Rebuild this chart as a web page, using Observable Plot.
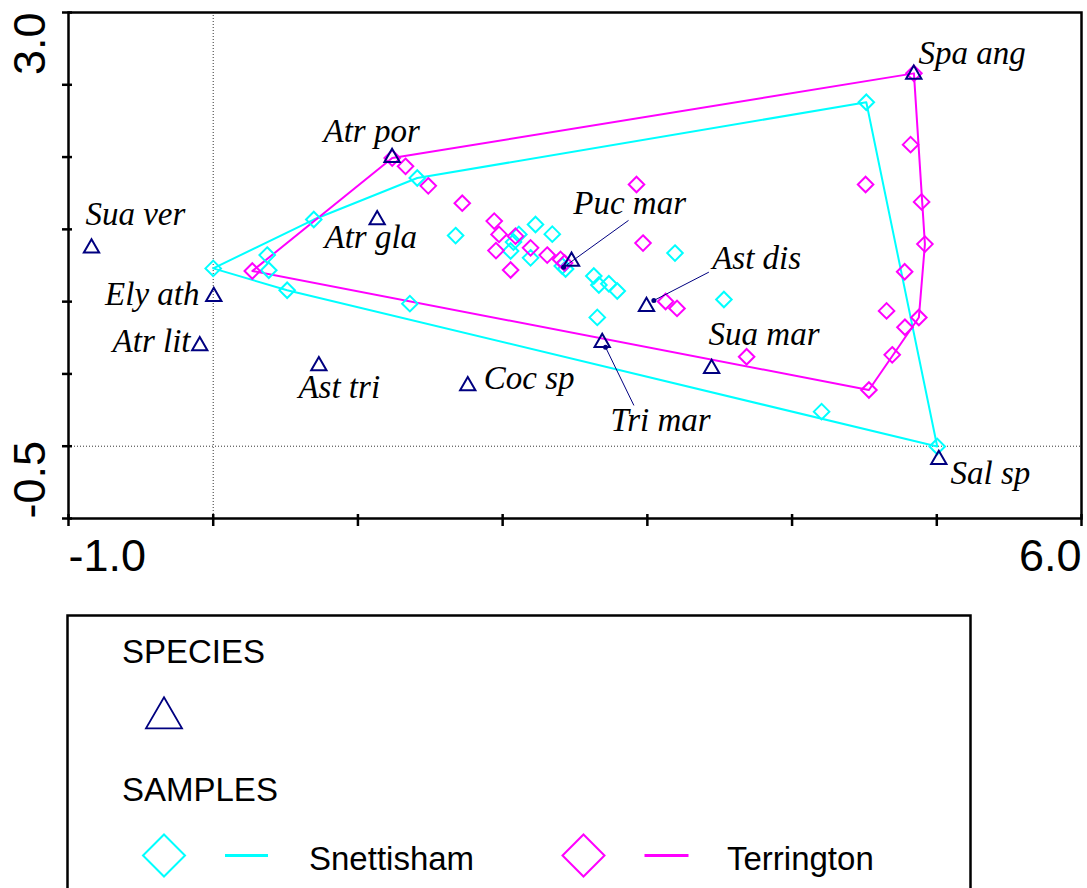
<!DOCTYPE html>
<html>
<head>
<meta charset="utf-8">
<script src="https://cdn.jsdelivr.net/npm/d3@7"></script>
<script src="https://cdn.jsdelivr.net/npm/@observablehq/plot@0.6"></script>
<style>
  html, body { margin: 0; padding: 0; background: #fff; }
  #chart { position: relative; width: 1087px; height: 888px; overflow: hidden; background: #fff; }
  #legend { position: absolute; left: 0; top: 590px; }
</style>
</head>
<body>
<div id="chart"></div>
<script>
// Ordination scores: species (triangles) and samples from two marsh sites.
const speciesNames = ["Sua ver", "Atr por", "Atr gla", "Ely ath", "Atr lit", "Ast tri", "Coc sp",
                      "Tri mar", "Sua mar", "Ast dis", "Puc mar", "Spa ang", "Sal sp"];
const speciesX = [-0.841, 1.236, 1.133, 0.004, -0.093, 0.730, 1.759, 2.688, 3.444, 2.994, 2.476, 4.841, 5.014];
const speciesY = [1.370, 1.997, 1.566, 1.035, 0.694, 0.556, 0.418, 0.717, 0.537, 0.966, 1.278, 2.573, -0.092];

const snettishamX = [0.000, 0.373, 0.384, 0.511, 0.695, 1.359, 1.410, 1.675, 2.112, 2.227, 2.343, 2.055, 2.193,
                     2.412, 2.435, 2.630, 2.665, 2.734, 2.792, 2.654, 3.191, 3.529, 4.204, 5.003, 4.513, 2.075];
const snettishamY = [1.230, 1.322, 1.217, 1.079, 1.568, 0.986, 1.855, 1.457, 1.465, 1.534, 1.467, 1.350, 1.303,
                     1.246, 1.226, 1.177, 1.115, 1.124, 1.074, 0.891, 1.336, 1.015, 0.239, -0.002, 2.379, 1.412];

const terringtonX = [0.270, 1.237, 1.329, 1.486, 1.721, 1.942, 1.975, 2.089, 1.954, 2.055, 2.193, 2.308, 2.400,
                     2.428, 2.925, 2.970, 3.126, 3.205, 3.686, 4.508, 4.842, 4.819, 4.895, 4.918, 4.778, 4.653,
                     4.876, 4.780, 4.692, 4.531];
const terringtonY = [1.212, 1.993, 1.936, 1.801, 1.681, 1.557, 1.465, 1.453, 1.353, 1.219, 1.372, 1.322, 1.292,
                     1.267, 1.810, 1.405, 1.001, 0.953, 0.619, 1.810, 2.579, 2.086, 1.690, 1.398, 1.207, 0.936,
                     0.890, 0.823, 0.632, 0.389];

// Where each species name sits (axis units, text baseline) and which side it hangs from.
const labelX = [-0.883, 0.762, 0.769, -0.095, -0.157, 0.589, 1.870, 2.746, 3.423, 3.448, 2.488, 4.874, 5.095];
const labelY = [1.527, 2.101, 1.368, 0.980, 0.650, 0.335, 0.397, 0.104, 0.697, 1.227, 1.608, 2.647, -0.260];
const labelSide = ["start", "start", "start", "end", "end", "start", "start", "start", "start", "start", "start", "start", "start"];

// Leader lines from a label towards its species point.
const leaderNames = ["Tri mar", "Ast dis", "Puc mar"];
const leaderFromX = [2.907, 3.425, 2.870];
const leaderFromY = [0.282, 1.204, 1.562];
const leaderToX = [2.711, 3.045, 2.421];
const leaderToY = [0.685, 1.008, 1.238];

const xTicks = [-1, 0, 1, 2, 3, 4, 5, 6];
const yTicks = [-0.5, 0, 0.5, 1.0, 1.5, 2.0, 2.5, 3.0];
const xEndLabels = [{v: -1, t: "-1.0"}, {v: 6, t: "6.0"}];
const yEndLabels = [{v: 3.0, t: "3.0"}, {v: -0.5, t: "-0.5"}];

const siteNames = ["Snettisham", "Terrington"];
const siteColors = ["#00ffff", "#ff00ff"];
const NAVY = "#000080";

const species = speciesNames.map((name, i) => ({name, x: speciesX[i], y: speciesY[i]}));
const labels = speciesNames.map((name, i) => ({name, x: labelX[i], y: labelY[i], side: labelSide[i]}));
const leaders = leaderNames.map((name, i) => ({name, x1: leaderFromX[i], y1: leaderFromY[i], x2: leaderToX[i], y2: leaderToY[i]}));
const snet = snettishamX.map((x, i) => ({x, y: snettishamY[i]}));
const terr = terringtonX.map((x, i) => ({x, y: terringtonY[i]}));

// Envelope (convex hull) around each site's samples
const hull = pts => d3.polygonHull(pts.map(d => [d.x, d.y])).map(([x, y]) => ({x, y}));

const serifLabel = {
  fontFamily: "'Liberation Serif', 'Times New Roman', serif",
  fontStyle: "italic",
  fontSize: 33,
  fill: "#000",
  lineAnchor: "bottom"
};
const axisFont = {fontFamily: "'Liberation Sans', Arial, sans-serif", fontSize: 45, fill: "#000"};

const chart = Plot.plot({
  width: 1087,
  height: 590,
  marginLeft: 68,
  marginRight: 6,
  marginTop: 12,
  marginBottom: 72,
  x: {domain: [-1, 6], label: null},
  y: {domain: [-0.5, 3.0], label: null},
  style: {background: "#fff", fontFamily: "'Liberation Sans', Arial, sans-serif"},
  marks: [
    Plot.ruleX([0], {stroke: "#333", strokeWidth: 1, strokeDasharray: "1,2"}),
    Plot.ruleY([0], {stroke: "#333", strokeWidth: 1, strokeDasharray: "1,2"}),
    Plot.line(hull(snet), {x: "x", y: "y", curve: "linear-closed", stroke: siteColors[0], strokeWidth: 2}),
    Plot.line(hull(terr), {x: "x", y: "y", curve: "linear-closed", stroke: siteColors[1], strokeWidth: 2}),
    Plot.dot(snet, {x: "x", y: "y", symbol: "diamond2", r: 7, stroke: siteColors[0], strokeWidth: 2, fill: "none"}),
    Plot.dot(terr, {x: "x", y: "y", symbol: "diamond2", r: 7, stroke: siteColors[1], strokeWidth: 2, fill: "none"}),
    Plot.link(leaders, {x1: "x1", y1: "y1", x2: "x2", y2: "y2", stroke: NAVY, strokeWidth: 1}),
    Plot.dot(leaders, {x: "x2", y: "y2", r: 2.5, fill: NAVY, stroke: null}),
    Plot.dot(species, {x: "x", y: "y", symbol: "triangle2", r: 7.3, stroke: NAVY, strokeWidth: 2, fill: "none"}),
    Plot.text(labels.filter(d => d.side === "start"), {x: "x", y: "y", text: "name", textAnchor: "start", ...serifLabel}),
    Plot.text(labels.filter(d => d.side === "end"), {x: "x", y: "y", text: "name", textAnchor: "end", ...serifLabel}),
    Plot.frame({stroke: "#000", strokeWidth: 2.5}),
    Plot.axisX({ticks: xTicks, tickSize: 12, dy: -4, tickFormat: () => "", stroke: "#000", strokeWidth: 2.5, label: null}),
    Plot.axisY({ticks: yTicks, tickSize: 10, dx: 4, tickFormat: () => "", stroke: "#000", strokeWidth: 2.5, label: null}),
    Plot.text(xEndLabels.slice(0, 1), {x: "v", text: "t", frameAnchor: "bottom", textAnchor: "start", lineAnchor: "top", dy: 21, ...axisFont}),
    Plot.text(xEndLabels.slice(1), {x: "v", text: "t", frameAnchor: "bottom", textAnchor: "end", lineAnchor: "top", dy: 21, ...axisFont}),
    Plot.text(yEndLabels.slice(0, 1), {y: "v", text: "t", frameAnchor: "left", rotate: -90, textAnchor: "end", lineAnchor: "middle", dx: -38, ...axisFont}),
    Plot.text(yEndLabels.slice(1), {y: "v", text: "t", frameAnchor: "left", rotate: -90, textAnchor: "start", lineAnchor: "middle", dx: -38, ...axisFont})
  ]
});
document.getElementById("chart").appendChild(chart);

// Legend panel below the plot
const legend = d3.create("svg")
  .attr("id", "legend")
  .attr("width", 1087)
  .attr("height", 298)
  .style("font-family", "'Liberation Sans', Arial, sans-serif");

legend.append("rect")
  .attr("x", 67.5).attr("y", 25.5).attr("width", 903).attr("height", 320)
  .attr("fill", "#fff").attr("stroke", "#000").attr("stroke-width", 2.5);

legend.append("text").attr("x", 122).attr("y", 73).attr("font-size", 33).text("SPECIES");
legend.append("path")
  .attr("d", d3.symbol(d3.symbolTriangle2, 929)())
  .attr("transform", "translate(164,128)")
  .attr("fill", "none").attr("stroke", NAVY).attr("stroke-width", 1.8);

legend.append("text").attr("x", 122).attr("y", 211).attr("font-size", 33).text("SAMPLES");

const entryX = [164, 583.5];
const lineX = [[225, 268], [644.5, 688.5]];
const textX = [309, 727];
siteNames.forEach((name, i) => {
  legend.append("path")
    .attr("d", d3.symbol(d3.symbolDiamond2, 1124)())
    .attr("transform", `translate(${entryX[i]},265.5)`)
    .attr("fill", "none").attr("stroke", siteColors[i]).attr("stroke-width", 2);
  legend.append("line")
    .attr("x1", lineX[i][0]).attr("x2", lineX[i][1]).attr("y1", 265.5).attr("y2", 265.5)
    .attr("stroke", siteColors[i]).attr("stroke-width", 3);
  legend.append("text").attr("x", textX[i]).attr("y", 280).attr("font-size", 33).text(name);
});

document.getElementById("chart").appendChild(legend.node());
</script>
</body>
</html>
